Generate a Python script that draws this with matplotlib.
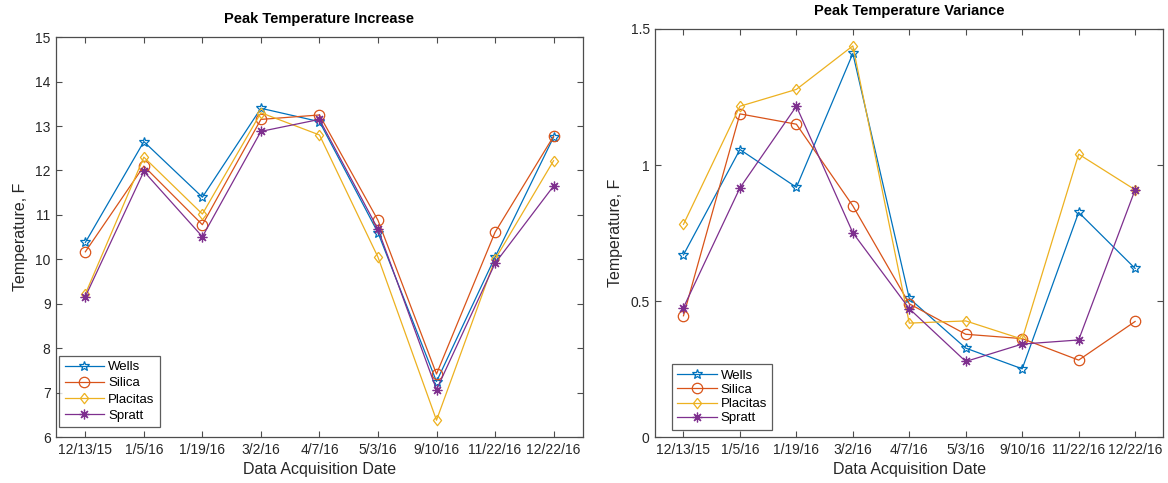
import matplotlib
matplotlib.use("Agg")
import matplotlib.pyplot as plt

plt.rcParams['font.family'] = ['Liberation Sans', 'DejaVu Sans']

dates_left = ["12/13/15", "1/5/16", "1/19/16", "3/2/16", "4/7/16",
              "5/3/16", "9/10/16", "11/22/16", "12/22/16"]
dates_right = ["12/13/15", "1/5/16", "1/19/16", "3/2/16", "4/7/16",
               "5/3/16", "9/10/16", "11/22/16", "12/22/16"]
sites = ["Wells", "Silica", "Placitas", "Spratt"]

# Peak temperature increase (F)
inc_wells = [10.38, 12.65, 11.40, 13.40, 13.10, 10.60, 7.25, 10.05, 12.75]
inc_silica = [10.17, 12.10, 10.78, 13.15, 13.25, 10.88, 7.42, 10.61, 12.77]
inc_placitas = [9.22, 12.30, 11.02, 13.30, 12.80, 10.05, 6.38, 10.00, 12.22]
inc_spratt = [9.16, 11.98, 10.51, 12.88, 13.15, 10.68, 7.07, 9.91, 11.65]

# Peak temperature variance (F)
var_wells = [0.670, 1.057, 0.918, 1.410, 0.510, 0.327, 0.251, 0.826, 0.620]
var_silica = [0.446, 1.188, 1.150, 0.850, 0.490, 0.378, 0.362, 0.283, 0.425]
var_placitas = [0.782, 1.216, 1.278, 1.438, 0.419, 0.427, 0.360, 1.040, 0.909]
var_spratt = [0.476, 0.916, 1.216, 0.751, 0.472, 0.278, 0.342, 0.357, 0.909]

colors = ["#0072BD", "#D95319", "#EDB120", "#7E2F8E"]
diamond = [(0, 1), (0.78, 0), (0, -1), (-0.78, 0), (0, 1)]
markers = ["*", "o", diamond, (8, 2, 0)]
msizes = [7, 7.5, 7.5, 7]

fig = plt.figure(figsize=(11.68, 4.83), dpi=100)
ax1 = fig.add_axes([0.048, 0.095, 0.451, 0.828])
ax2 = fig.add_axes([0.561, 0.095, 0.435, 0.845])

spine_col = "#4d4d4d"
text_col = "#262626"


def draw(ax, series, labels, title, ylim, yticks, yticklabels,
         legend_anchor, legend_spacing):
    x = list(range(1, len(labels) + 1))
    for vals, name, c, m, ms in zip(series, sites, colors, markers, msizes):
        ax.plot(x, vals, color=c, lw=0.9, marker=m, ms=ms,
                markerfacecolor="none", markeredgecolor=c, markeredgewidth=0.9,
                label=name)
    ax.set_xlim(0.5, len(labels) + 0.5)
    ax.set_ylim(*ylim)
    ax.set_xticks(x)
    ax.set_xticklabels(labels)
    ax.set_yticks(yticks)
    ax.set_yticklabels(yticklabels)
    ax.tick_params(direction="in", top=True, right=True, length=4,
                   width=0.8, color=spine_col, labelsize=10,
                   labelcolor=text_col, pad=4)
    for s in ax.spines.values():
        s.set_color(spine_col)
        s.set_linewidth(0.9)
    ax.set_title(title, fontsize=10.5, fontweight="bold", color="black", pad=10)
    ax.set_xlabel("Data Acquisition Date", fontsize=11.5, color=text_col, labelpad=4)
    ax.set_ylabel("Temperature, F", fontsize=11.5, color=text_col, labelpad=5)
    leg = ax.legend(loc="lower left", bbox_to_anchor=legend_anchor,
                    fontsize=9.5, frameon=True, fancybox=False,
                    borderpad=0.4, labelspacing=legend_spacing, handlelength=3.0,
                    handletextpad=0.3, borderaxespad=0)
    leg.get_frame().set_edgecolor("#333333")
    leg.get_frame().set_linewidth(0.9)


draw(ax1, [inc_wells, inc_silica, inc_placitas, inc_spratt], dates_left,
     "Peak Temperature Increase", (6, 15), list(range(6, 16)),
     [str(v) for v in range(6, 16)], (0.006, 0.025), 0.3)
draw(ax2, [var_wells, var_silica, var_placitas, var_spratt], dates_right,
     "Peak Temperature Variance", (0, 1.5), [0, 0.5, 1, 1.5],
     ["0", "0.5", "1", "1.5"], (0.033, 0.018), 0.15)

fig.savefig("out.png", dpi=100)
